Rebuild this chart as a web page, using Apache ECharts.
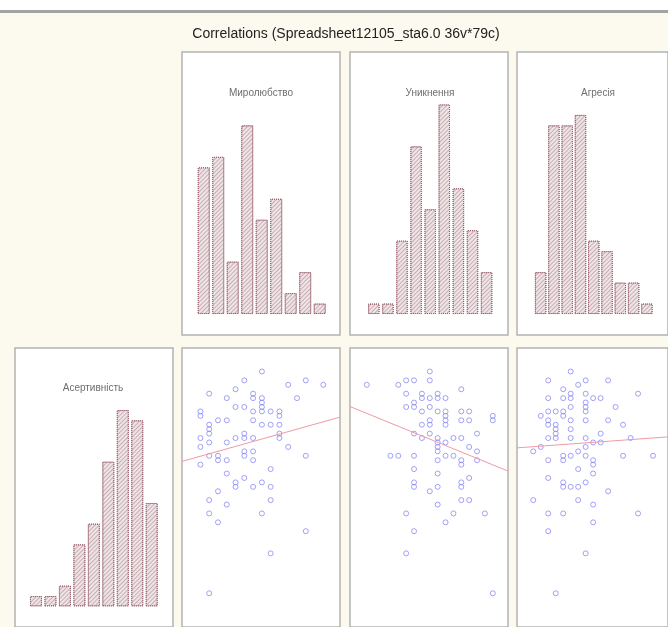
<!DOCTYPE html>
<html>
<head>
<meta charset="utf-8">
<script src="https://cdn.jsdelivr.net/npm/echarts@6/dist/echarts.min.js"></script>
<style>html,body{margin:0;padding:0;background:#fcf9ee;}#c{width:668px;height:627px;}</style>
</head>
<body>
<div id="c"></div>
<script>
// ---- data ----
const chartTitle = 'Correlations (Spreadsheet12105_sta6.0 36v*79c)';
const varNames = ['Миролюбство', 'Уникнення', 'Агресія', 'Асертивність'];
const binIndex = [0, 1, 2, 3, 4, 5, 6, 7, 8];
const histMyrol = [14, 15, 5, 18, 9, 11, 2, 4, 1];
const histUnyk = [1, 1, 7, 16, 10, 20, 12, 8, 4];
const histAgres = [4, 18, 18, 19, 7, 6, 3, 3, 1];
const histAsert = [1, 1, 2, 6, 8, 14, 19, 18, 10];

// [x score, Асертивність score]
const scatMyrol = [
  [7,52],[5,50],[12,50],[1,47],[4,48],[10,49],[14,49],[3,46],[6,47],[6,46],[7,46],[11,46],
  [7,45],[7,44],[7,43],[4,44],[5,44],[6,43],[8,43],[9,43],[9,42],[0,43],[0,42],
  [2,41],[3,41],[6,41],[1,40],[1,39],[1,38],[7,40],[8,40],[9,40],[9,38],[9,37],
  [5,38],[5,37],[0,37],[4,37],[6,37],[1,36],[3,36],[0,35],[10,35],[5,34],[5,33],[6,34],
  [1,33],[2,33],[2,32],[3,32],[6,32],[12,33],[0,31],[8,30],[3,29],[5,28],
  [4,27],[4,26],[7,27],[6,26],[8,26],[2,25],[1,23],[8,23],[3,22],[1,20],[7,20],
  [2,18],[12,16],[8,11],[1,2]
];
const scatUnyk = [
  [8,52],[8,50],[0,49],[4,49],[5,50],[6,50],[12,48],[5,47],[7,47],[7,46],[8,46],[9,47],[9,46],[10,46],
  [6,45],[5,44],[6,44],[7,43],[8,44],[9,43],[10,43],[10,42],[12,43],[13,43],[16,42],[16,41],
  [8,41],[8,40],[8,38],[10,41],[10,40],[12,41],[13,41],[7,40],[14,38],
  [6,38],[7,37],[9,37],[9,36],[9,35],[9,34],[10,36],[11,37],[12,37],[13,35],[14,34],
  [3,33],[4,33],[6,33],[10,33],[11,33],[12,32],[12,31],[9,32],[14,32],[6,30],[9,29],[13,28],
  [6,27],[6,26],[12,27],[12,26],[9,26],[8,25],[12,23],[13,23],[9,22],[5,20],[11,20],[15,20],
  [10,18],[6,16],[5,11],[16,2]
];
const scatAgres = [
  [5,52],[2,50],[7,50],[10,50],[6,49],[4,48],[5,47],[7,47],[14,47],[2,46],[4,46],[5,46],[8,46],[9,46],
  [7,45],[7,44],[7,43],[5,44],[11,44],[1,42],[2,43],[3,43],[4,43],[4,42],
  [2,41],[2,40],[3,40],[3,39],[3,38],[5,41],[7,41],[10,41],[5,39],[5,37],[12,40],[9,38],
  [2,37],[3,37],[7,37],[13,37],[8,36],[9,36],[1,35],[0,34],[7,35],
  [6,34],[5,33],[4,33],[4,32],[7,33],[12,33],[16,33],[2,32],[8,32],[8,31],[6,30],[8,29],[2,28],
  [4,27],[4,26],[5,26],[6,26],[7,27],[10,25],[0,23],[6,23],[8,22],[2,20],[4,20],[14,20],
  [8,18],[2,16],[7,11],[3,2]
];

// ---- helpers ----
function fit(pts) {
  const n = pts.length;
  let sx = 0, sy = 0, sxx = 0, sxy = 0;
  pts.forEach(p => { sx += p[0]; sy += p[1]; sxx += p[0]*p[0]; sxy += p[0]*p[1]; });
  const b = (n*sxy - sx*sy) / (n*sxx - sx*sx);
  const a = (sy - b*sx) / n;
  return [a, b];
}
function fitLine(pts, x0, x1) {
  const [a, b] = fit(pts);
  return [[x0, a + b*x0], [x1, a + b*x1]];
}

const panelW = 158, panelH = 283;
const panels = [
  {left: 182, top: 52},  // hist Миролюбство
  {left: 350, top: 52},  // hist Уникнення
  {left: 517, top: 52},  // hist Агресія
  {left: 15,  top: 348}, // hist Асертивність
  {left: 182, top: 348}, // scatter
  {left: 350, top: 348},
  {left: 517, top: 348}
];
const grids = panels.map(p => ({
  left: p.left, top: p.top, width: panelW, height: panelH,
  show: true, backgroundColor: '#ffffff', borderColor: '#b3b3b3', borderWidth: 1.5
}));

const hidden = {axisLine:{show:false}, axisTick:{show:false}, axisLabel:{show:false}, splitLine:{show:false}};
const histX = [[-1.5, 9.4], [-1.69, 9.52], [-1.78, 9.59], [-1.45, 9.47]];
const scatX = [[-2.1, 15.9], [-2.13, 17.93], [-2.17, 18.0]];
const xAxes = [], yAxes = [];
histX.forEach((r, i) => {
  xAxes.push(Object.assign({type:'value', gridIndex:i, min:r[0], max:r[1]}, hidden));
  yAxes.push(Object.assign({type:'value', gridIndex:i, min:-2, max:25}, hidden));
});
scatX.forEach((r, i) => {
  xAxes.push(Object.assign({type:'value', gridIndex:4+i, min:r[0], max:r[1]}, hidden));
  yAxes.push(Object.assign({type:'value', gridIndex:4+i, min:-5.6, max:57.3}, hidden));
});

const barStyle = {
  color: '#efe4e6',
  borderColor: '#9a6070',
  borderWidth: 1,
  borderType: 'dotted',
  decal: {symbol:'rect', symbolSize:1, dashArrayX:[1,0], dashArrayY:[1,2], rotation:-Math.PI/4, color:'rgba(150,110,120,0.45)'}
};
function histSeries(vals, idx, bw) {
  return {type:'bar', xAxisIndex:idx, yAxisIndex:idx, barWidth:bw,
    data: binIndex.map(i => [i, vals[i]]), itemStyle: barStyle, silent:true};
}
function scatSeries(pts, idx) {
  return {type:'scatter', xAxisIndex:idx, yAxisIndex:idx, data: pts, symbol:'circle', symbolSize:5,
    itemStyle:{color:'rgba(0,0,0,0)', borderColor:'#8a8af2', borderWidth:1}, silent:true};
}
function lineSeries(pts, idx, xr) {
  return {type:'line', xAxisIndex:idx, yAxisIndex:idx, data: fitLine(pts, xr[0], xr[1]), symbol:'none',
    lineStyle:{color:'#f09aa3', width:1}, silent:true, z:3};
}

const series = [
  histSeries(histMyrol, 0, 12),
  histSeries(histUnyk, 1, 11.5),
  histSeries(histAgres, 2, 11.5),
  histSeries(histAsert, 3, 12),
  scatSeries(scatMyrol, 4), lineSeries(scatMyrol, 4, scatX[0]),
  scatSeries(scatUnyk, 5), lineSeries(scatUnyk, 5, scatX[1]),
  scatSeries(scatAgres, 6), lineSeries(scatAgres, 6, scatX[2])
];

const nameStyle = {font:'10px "Liberation Sans", Arial, sans-serif', fill:'#6e6e6e', align:'center', verticalAlign:'middle'};
const graphic = [
  {type:'rect', shape:{x:0, y:0, width:668, height:10}, style:{fill:'#ffffff'}, z:10},
  {type:'rect', shape:{x:0, y:10, width:668, height:3}, style:{fill:'#a3a3a3'}, z:10},
  {type:'text', x:346, y:34, style:{text: chartTitle, font:'14px "Liberation Sans", Arial, sans-serif', fill:'#222', align:'center', verticalAlign:'middle'}, z:10},
  {type:'text', x:261, y:93, style:Object.assign({text:varNames[0]}, nameStyle), z:10},
  {type:'text', x:430, y:93, style:Object.assign({text:varNames[1]}, nameStyle), z:10},
  {type:'text', x:598, y:93, style:Object.assign({text:varNames[2]}, nameStyle), z:10},
  {type:'text', x:93, y:388, style:Object.assign({text:varNames[3]}, nameStyle), z:10}
];

const chart = echarts.init(document.getElementById('c'), null, {renderer:'canvas'});
chart.setOption({
  backgroundColor: '#fcf9ee',
  animation: false,
  grid: grids,
  xAxis: xAxes,
  yAxis: yAxes,
  series: series,
  graphic: graphic
});
</script>
</body>
</html>
